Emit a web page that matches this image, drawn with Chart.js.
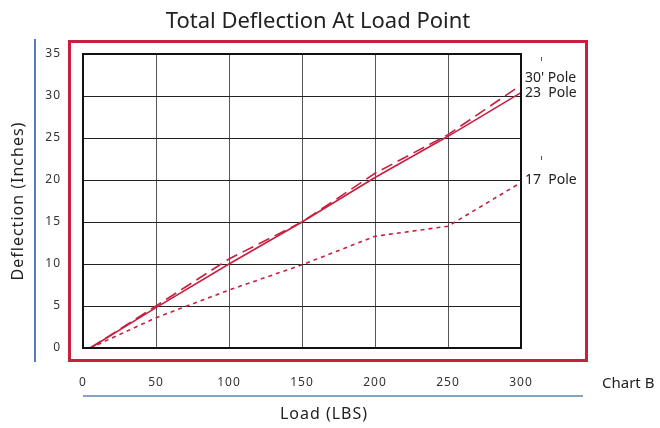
<!DOCTYPE html>
<html>
<head>
<meta charset="utf-8">
<script src="https://cdn.jsdelivr.net/npm/chart.js@4.4.0/dist/chart.umd.min.js"></script>
<style>
  html, body { margin: 0; padding: 0; background: #fff; }
  #wrap { width: 660px; height: 428px; }
</style>
</head>
<body>
<div id="wrap"><canvas id="chart"></canvas></div>
<script>
// values
const loads = [5, 50, 100, 150, 200, 250, 300];
const pole30 = [0, 5.0, 10.6, 15.0, 20.8, 25.4, 31.3];
const pole23 = [0, 4.8, 10.0, 15.0, 20.3, 25.2, 30.4];
const pole17 = [0, 3.6, 6.9, 9.9, 13.3, 14.5, 19.7];
const seriesNames = ["30' Pole", "23  Pole", "17  Pole"];
const xTickValues = [0, 50, 100, 150, 200, 250, 300];
const yTickValues = [0, 5, 10, 15, 20, 25, 30, 35];

const RED = '#c91f3f';
const FONT = "'Noto Sans', sans-serif";

const toPoints = (vals) => vals.map((v, i) => ({ x: loads[i], y: v }));

// label nudges so the right-hand names sit like the original
const labelNudge = [-7, 0, -3];

const decorPlugin = {
    id: 'decor',
    beforeDraw(chart) {
        const { ctx } = chart;
        ctx.save();
        ctx.fillStyle = '#fff';
        ctx.fillRect(0, 0, chart.width, chart.height);
        ctx.restore();
        // the original axis text is slightly spaced out
        ctx.letterSpacing = '1px';
    },
    beforeDatasetsDraw(chart) {
        chart.ctx.letterSpacing = '0px';
    },
    afterDraw(chart) {
        const { ctx, chartArea } = chart;
        ctx.save();
        ctx.letterSpacing = '0px';
        // black frame around plot
        ctx.strokeStyle = '#111';
        ctx.lineWidth = 2;
        ctx.strokeRect(chartArea.left, chartArea.top, chartArea.right - chartArea.left, chartArea.bottom - chartArea.top);

        // red box
        ctx.strokeStyle = RED;
        ctx.lineWidth = 3;
        ctx.strokeRect(69.5, 41.5, 517, 319);

        // blue rule at left
        ctx.strokeStyle = '#1f4f9f';
        ctx.lineWidth = 1.5;
        ctx.beginPath();
        ctx.moveTo(35, 39);
        ctx.lineTo(35, 362);
        ctx.stroke();

        // blue-grey rule under x labels
        ctx.strokeStyle = '#86a3c2';
        ctx.lineWidth = 2;
        ctx.beginPath();
        ctx.moveTo(83, 396);
        ctx.lineTo(583, 396);
        ctx.stroke();

        // small marks above labels
        ctx.strokeStyle = '#555';
        ctx.lineWidth = 1;
        ctx.beginPath();
        ctx.moveTo(541.5, 57); ctx.lineTo(541.5, 61);
        ctx.moveTo(541.5, 156); ctx.lineTo(541.5, 160);
        ctx.stroke();

        // title
        ctx.fillStyle = '#222';
        ctx.textAlign = 'center';
        ctx.textBaseline = 'middle';
        ctx.font = "22px " + FONT;
        ctx.fillText('Total Deflection At Load Point', 318, 22);

        // x axis title (sits right of the plot centre in the original)
        ctx.letterSpacing = '1px';
        ctx.font = "16px " + FONT;
        ctx.fillText('Load (LBS)', 324, 414);
        ctx.letterSpacing = '0px';

        // series names at line ends
        ctx.font = "14px " + FONT;
        ctx.textAlign = 'left';
        chart.data.datasets.forEach((ds, i) => {
            const meta = chart.getDatasetMeta(i);
            const last = meta.data[meta.data.length - 1];
            ctx.fillText(ds.label, last.x + 4, last.y + labelNudge[i]);
        });

        // "Chart B"
        ctx.font = "15px " + FONT;
        ctx.fillText('Chart B', 602, 384);
        ctx.restore();
    }
};

new Chart(document.getElementById('chart'), {
    type: 'line',
    data: {
        datasets: [
            {
                label: seriesNames[0],
                data: toPoints(pole30),
                borderColor: RED,
                borderWidth: 1.6,
                borderDash: [12, 6],
                pointRadius: 0,
                tension: 0
            },
            {
                label: seriesNames[1],
                data: toPoints(pole23),
                borderColor: RED,
                borderWidth: 1.6,
                pointRadius: 0,
                tension: 0
            },
            {
                label: seriesNames[2],
                data: toPoints(pole17),
                borderColor: RED,
                borderWidth: 1.6,
                borderDash: [4, 4],
                pointRadius: 0,
                tension: 0
            }
        ]
    },
    options: {
        responsive: true,
        maintainAspectRatio: false,
        animation: false,
        layout: { padding: { left: 0, right: 139, top: 54, bottom: 0 } },
        plugins: {
            legend: { display: false },
            tooltip: { enabled: false },
            title: { display: false }
        },
        scales: {
            x: {
                type: 'linear',
                min: 0,
                max: 300,
                afterFit(scale) { scale.height = 80; },
                afterBuildTicks(scale) { scale.ticks = xTickValues.map(v => ({ value: v })); },
                grid: { color: '#555', lineWidth: 1, drawTicks: false },
                border: { display: true, color: '#111', width: 2 },
                ticks: {
                    padding: 27,
                    color: '#333',
                    font: { family: FONT, size: 12 },
                    maxRotation: 0
                },
                title: { display: false }
            },
            y: {
                min: 0,
                max: 35,
                afterFit(scale) { scale.width = 83; },
                afterBuildTicks(scale) { scale.ticks = yTickValues.map(v => ({ value: v })); },
                grid: { color: '#222', lineWidth: 1, drawTicks: false },
                border: { display: true, color: '#111', width: 2 },
                ticks: {
                    padding: 22,
                    color: '#333',
                    font: { family: FONT, size: 12 }
                },
                title: {
                    display: true,
                    text: 'Deflection (Inches)',
                    color: '#222',
                    font: { family: FONT, size: 16 },
                    padding: { top: 9, bottom: 0 }
                }
            }
        }
    },
    plugins: [decorPlugin]
});
</script>
</body>
</html>
